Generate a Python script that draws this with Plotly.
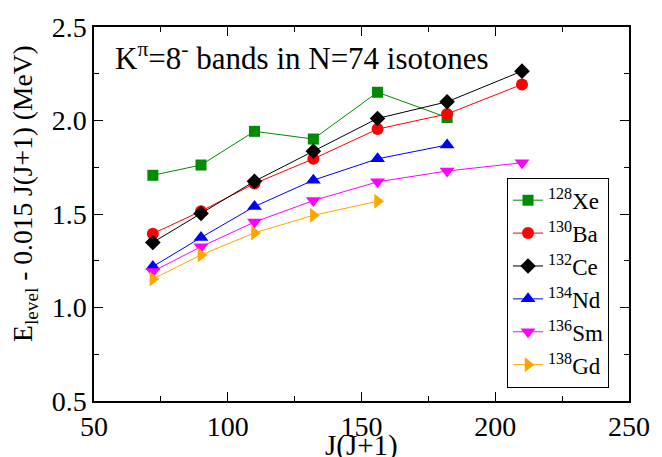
import plotly.graph_objects as go

# J(J+1) for J = 8 ... 14
jj = [72, 90, 110, 132, 156, 182, 210]

# E_level - 0.015 J(J+1) in MeV for each N=74 isotone
xe128 = [1.707, 1.762, 1.942, 1.901, 2.151, 2.016]
ba130 = [1.395, 1.515, 1.663, 1.795, 1.954, 2.035, 2.193]
ce132 = [1.348, 1.503, 1.675, 1.836, 2.011, 2.100, 2.264]
nd134 = [1.219, 1.374, 1.540, 1.681, 1.795, 1.869]
sm136 = [1.193, 1.325, 1.457, 1.572, 1.672, 1.730, 1.774]
gd138 = [1.152, 1.281, 1.399, 1.493, 1.568]

series = [
    ("<sup>128</sup>Xe", xe128, "#008b00", "square", 11),
    ("<sup>130</sup>Ba", ba130, "#ff0000", "circle", 12),
    ("<sup>132</sup>Ce", ce132, "#000000", "diamond", 12),
    ("<sup>134</sup>Nd", nd134, "#0000ff", "triangle-up", 13),
    ("<sup>136</sup>Sm", sm136, "#ff00ff", "triangle-down", 13),
    ("<sup>138</sup>Gd", gd138, "#ffa500", "triangle-right", 13),
]

FONT = "Liberation Serif, Times New Roman, DejaVu Serif, serif"

fig = go.Figure()
for name, vals, color, symbol, size in series:
    fig.add_trace(go.Scatter(
        x=jj[:len(vals)], y=vals, name=name, mode="lines+markers",
        line=dict(color=color, width=1),
        marker=dict(symbol=symbol, size=size, color=color, line=dict(width=0)),
    ))

axis_common = dict(
    showline=True, linecolor="black", linewidth=1.5, mirror="allticks",
    ticks="inside", ticklen=9, tickwidth=1.2, tickcolor="black",
    showgrid=False, zeroline=False,
    tickfont=dict(family=FONT, size=28, color="black"),
)

fig.update_xaxes(range=[50, 250], tick0=50, dtick=50,
                 minor=dict(ticks="inside", ticklen=5, dtick=25, tickcolor="black", tickwidth=1.2),
                 **axis_common)
fig.update_yaxes(range=[0.5, 2.5], tick0=0.5, dtick=0.5, tickformat=".1f",
                 minor=dict(ticks="inside", ticklen=5, dtick=0.25, tickcolor="black", tickwidth=1.2),
                 **axis_common)

fig.add_annotation(
    text="K<sup>π</sup>=8<sup>-</sup> bands in N=74 isotones",
    xref="paper", yref="paper", x=0.035, y=0.979, xanchor="left", yanchor="top",
    showarrow=False, font=dict(family=FONT, size=31, color="black"),
)
fig.add_annotation(
    text="J(J+1)", xref="paper", yref="paper", x=0.5, y=-0.12,
    xanchor="center", yanchor="middle", showarrow=False,
    font=dict(family=FONT, size=29, color="black"),
)
fig.add_annotation(
    text="E<sub>level</sub> - 0.015 J(J+1) (MeV)", xref="paper", yref="paper",
    x=-0.13, y=0.555, xanchor="center", yanchor="middle", textangle=-90,
    showarrow=False, font=dict(family=FONT, size=27.5, color="black"),
)

fig.update_layout(
    width=662, height=457,
    margin=dict(l=94, r=28, t=23, b=56),
    paper_bgcolor="white", plot_bgcolor="white",
    font=dict(family=FONT, color="black"),
    legend=dict(
        x=0.772, y=0.597, xanchor="left", yanchor="top",
        bgcolor="white", bordercolor="black", borderwidth=1,
        font=dict(family=FONT, size=23, color="black"),
        itemwidth=30, tracegroupgap=0,
    ),
    showlegend=True,
)

fig.write_html("out.html")
